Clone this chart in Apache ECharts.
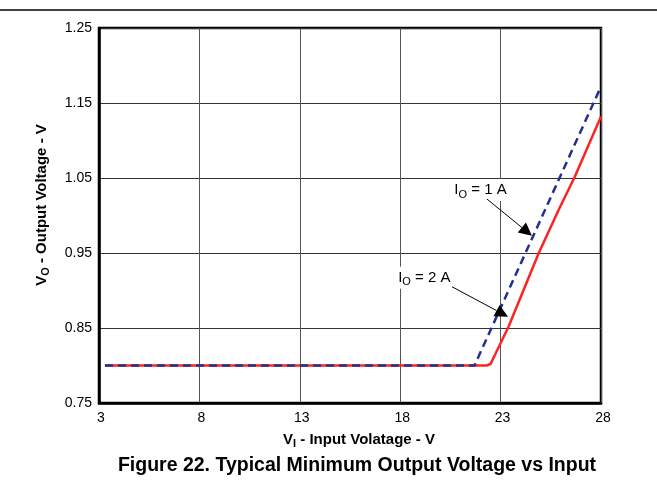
<!DOCTYPE html>
<html><head><meta charset="utf-8">
<script src="https://cdn.jsdelivr.net/npm/echarts@6/dist/echarts.min.js"></script>
<style>html,body{margin:0;padding:0;background:#fff}#c{width:657px;height:482px}</style>
</head><body><div id="c"></div>
<script>
// ---- data ----
const xTicks = [3, 8, 13, 18, 23, 28];
const yTicks = [0.75, 0.85, 0.95, 1.05, 1.15, 1.25];
const vin1A  = [3.3, 21.7, 28];
const vout1A = [0.8, 0.8, 1.172];
const vin2A  = [3.3, 22.3, 22.5, 23.4, 24.9, 25.9, 26.7, 28];
const vout2A = [0.8, 0.8, 0.802, 0.852, 0.95, 1.008, 1.052, 1.132];
const seriesNames = ['IO = 1 A', 'IO = 2 A'];
const labelCurrents = ['1 A', '2 A'];
const labelAt   = [[22.0, 1.034], [19.2, 0.917]];
const arrowFrom = [[22.32, 1.022], [20.58, 0.905]];
const arrowTo   = [[24.56, 0.973], [23.37, 0.865]];
const titleText = 'Figure 22. Typical Minimum Output Voltage vs Input';

const FONT = '"Liberation Sans", Arial, Helvetica, sans-serif';
const zip = (a, b) => a.map((v, i) => [v, b[i]]);

const chart = echarts.init(document.getElementById('c'), null, {renderer: 'canvas'});
const option = {
  animation: false,
  backgroundColor: '#fff',
  grid: {left: 99, right: 56, top: 28, bottom: 79, show: true, borderColor: '#000', borderWidth: 2.5, containLabel: false},
  xAxis: {
    type: 'value', min: xTicks[0], max: xTicks[xTicks.length - 1], interval: 5,
    axisLine: {show: true, lineStyle: {color: '#000', width: 2.5}},
    axisTick: {show: false},
    splitLine: {show: true, lineStyle: {color: '#555', width: 1}},
    axisLabel: {color: '#000', fontSize: 14, fontFamily: FONT, margin: 8, padding: [0, 0, 0, 4]}
  },
  yAxis: {
    type: 'value', min: yTicks[0], max: yTicks[yTicks.length - 1], interval: 0.1,
    axisLine: {show: true, lineStyle: {color: '#000', width: 2.5}},
    axisTick: {show: false},
    splitLine: {show: true, lineStyle: {color: '#333', width: 1}},
    axisLabel: {color: '#000', fontSize: 14, fontFamily: FONT, margin: 7, formatter: v => v.toFixed(2)}
  },
  series: [
    {name: seriesNames[1], type: 'line', data: zip(vin2A, vout2A), showSymbol: false, symbol: 'none',
     lineStyle: {color: '#ff2222', width: 2.5}, z: 2},
    {name: seriesNames[0], type: 'line', data: zip(vin1A, vout1A), showSymbol: false, symbol: 'none',
     lineStyle: {color: '#22308f', width: 2.5, type: [8, 5]}, z: 3}
  ]
};
chart.setOption(option);

function buildGraphics() {
  const g = [];
  g.push({type: 'line', shape: {x1: 0, y1: 10, x2: 657, y2: 10}, style: {stroke: '#000', lineWidth: 1.5}, silent: true});
  g.push({type: 'text', x: 42, y: 205, rotation: Math.PI / 2,
    style: {text: '{b|V}{s|O}{b| - Output Voltage - V}', align: 'center', verticalAlign: 'middle',
      rich: {b: {fontSize: 15, fontWeight: 'bold', fontFamily: FONT, fill: '#000'},
             s: {fontSize: 11, fontWeight: 'bold', fontFamily: FONT, fill: '#000', padding: [8, 0, 0, 0]}}}});
  g.push({type: 'text', x: 359, y: 440,
    style: {text: '{b|V}{s|I}{b| - Input Volatage - V}', align: 'center', verticalAlign: 'middle',
      rich: {b: {fontSize: 15, fontWeight: 'bold', fontFamily: FONT, fill: '#000'},
             s: {fontSize: 11, fontWeight: 'bold', fontFamily: FONT, fill: '#000', padding: [8, 0, 0, 0]}}}});
  g.push({type: 'text', x: 357, y: 466,
    style: {text: titleText, align: 'center', verticalAlign: 'middle', fontSize: 19.5, fontWeight: 'bold', fontFamily: FONT, fill: '#000'}});
  for (let i = 0; i < labelCurrents.length; i++) {
    const p = chart.convertToPixel({gridIndex: 0}, labelAt[i]);
    const a = chart.convertToPixel({gridIndex: 0}, arrowFrom[i]);
    const b = chart.convertToPixel({gridIndex: 0}, arrowTo[i]);
    g.push({type: 'text', x: p[0], y: p[1], z: 10,
      style: {text: '{n|I}{s|O}{n| = ' + labelCurrents[i] + '}', align: 'center', verticalAlign: 'middle',
        backgroundColor: '#fff', padding: [1, 4],
        rich: {n: {fontSize: 15, fontFamily: FONT, fill: '#000'},
               s: {fontSize: 11, fontFamily: FONT, fill: '#000', padding: [9, 0, 0, 0]}}}});
    const dx = b[0] - a[0], dy = b[1] - a[1];
    const len = Math.hypot(dx, dy), ux = dx / len, uy = dy / len;
    const L = 13, W = 6.5;
    const bx = b[0] - ux * L, by = b[1] - uy * L;
    g.push({type: 'line', z: 11, shape: {x1: a[0], y1: a[1], x2: bx, y2: by}, style: {stroke: '#000', lineWidth: 1}});
    g.push({type: 'polygon', z: 11, shape: {points: [[b[0], b[1]], [bx - uy * W, by + ux * W], [bx + uy * W, by - ux * W]]},
      style: {fill: '#000'}});
  }
  return g;
}
chart.setOption({graphic: buildGraphics()});
</script>
</body></html>
